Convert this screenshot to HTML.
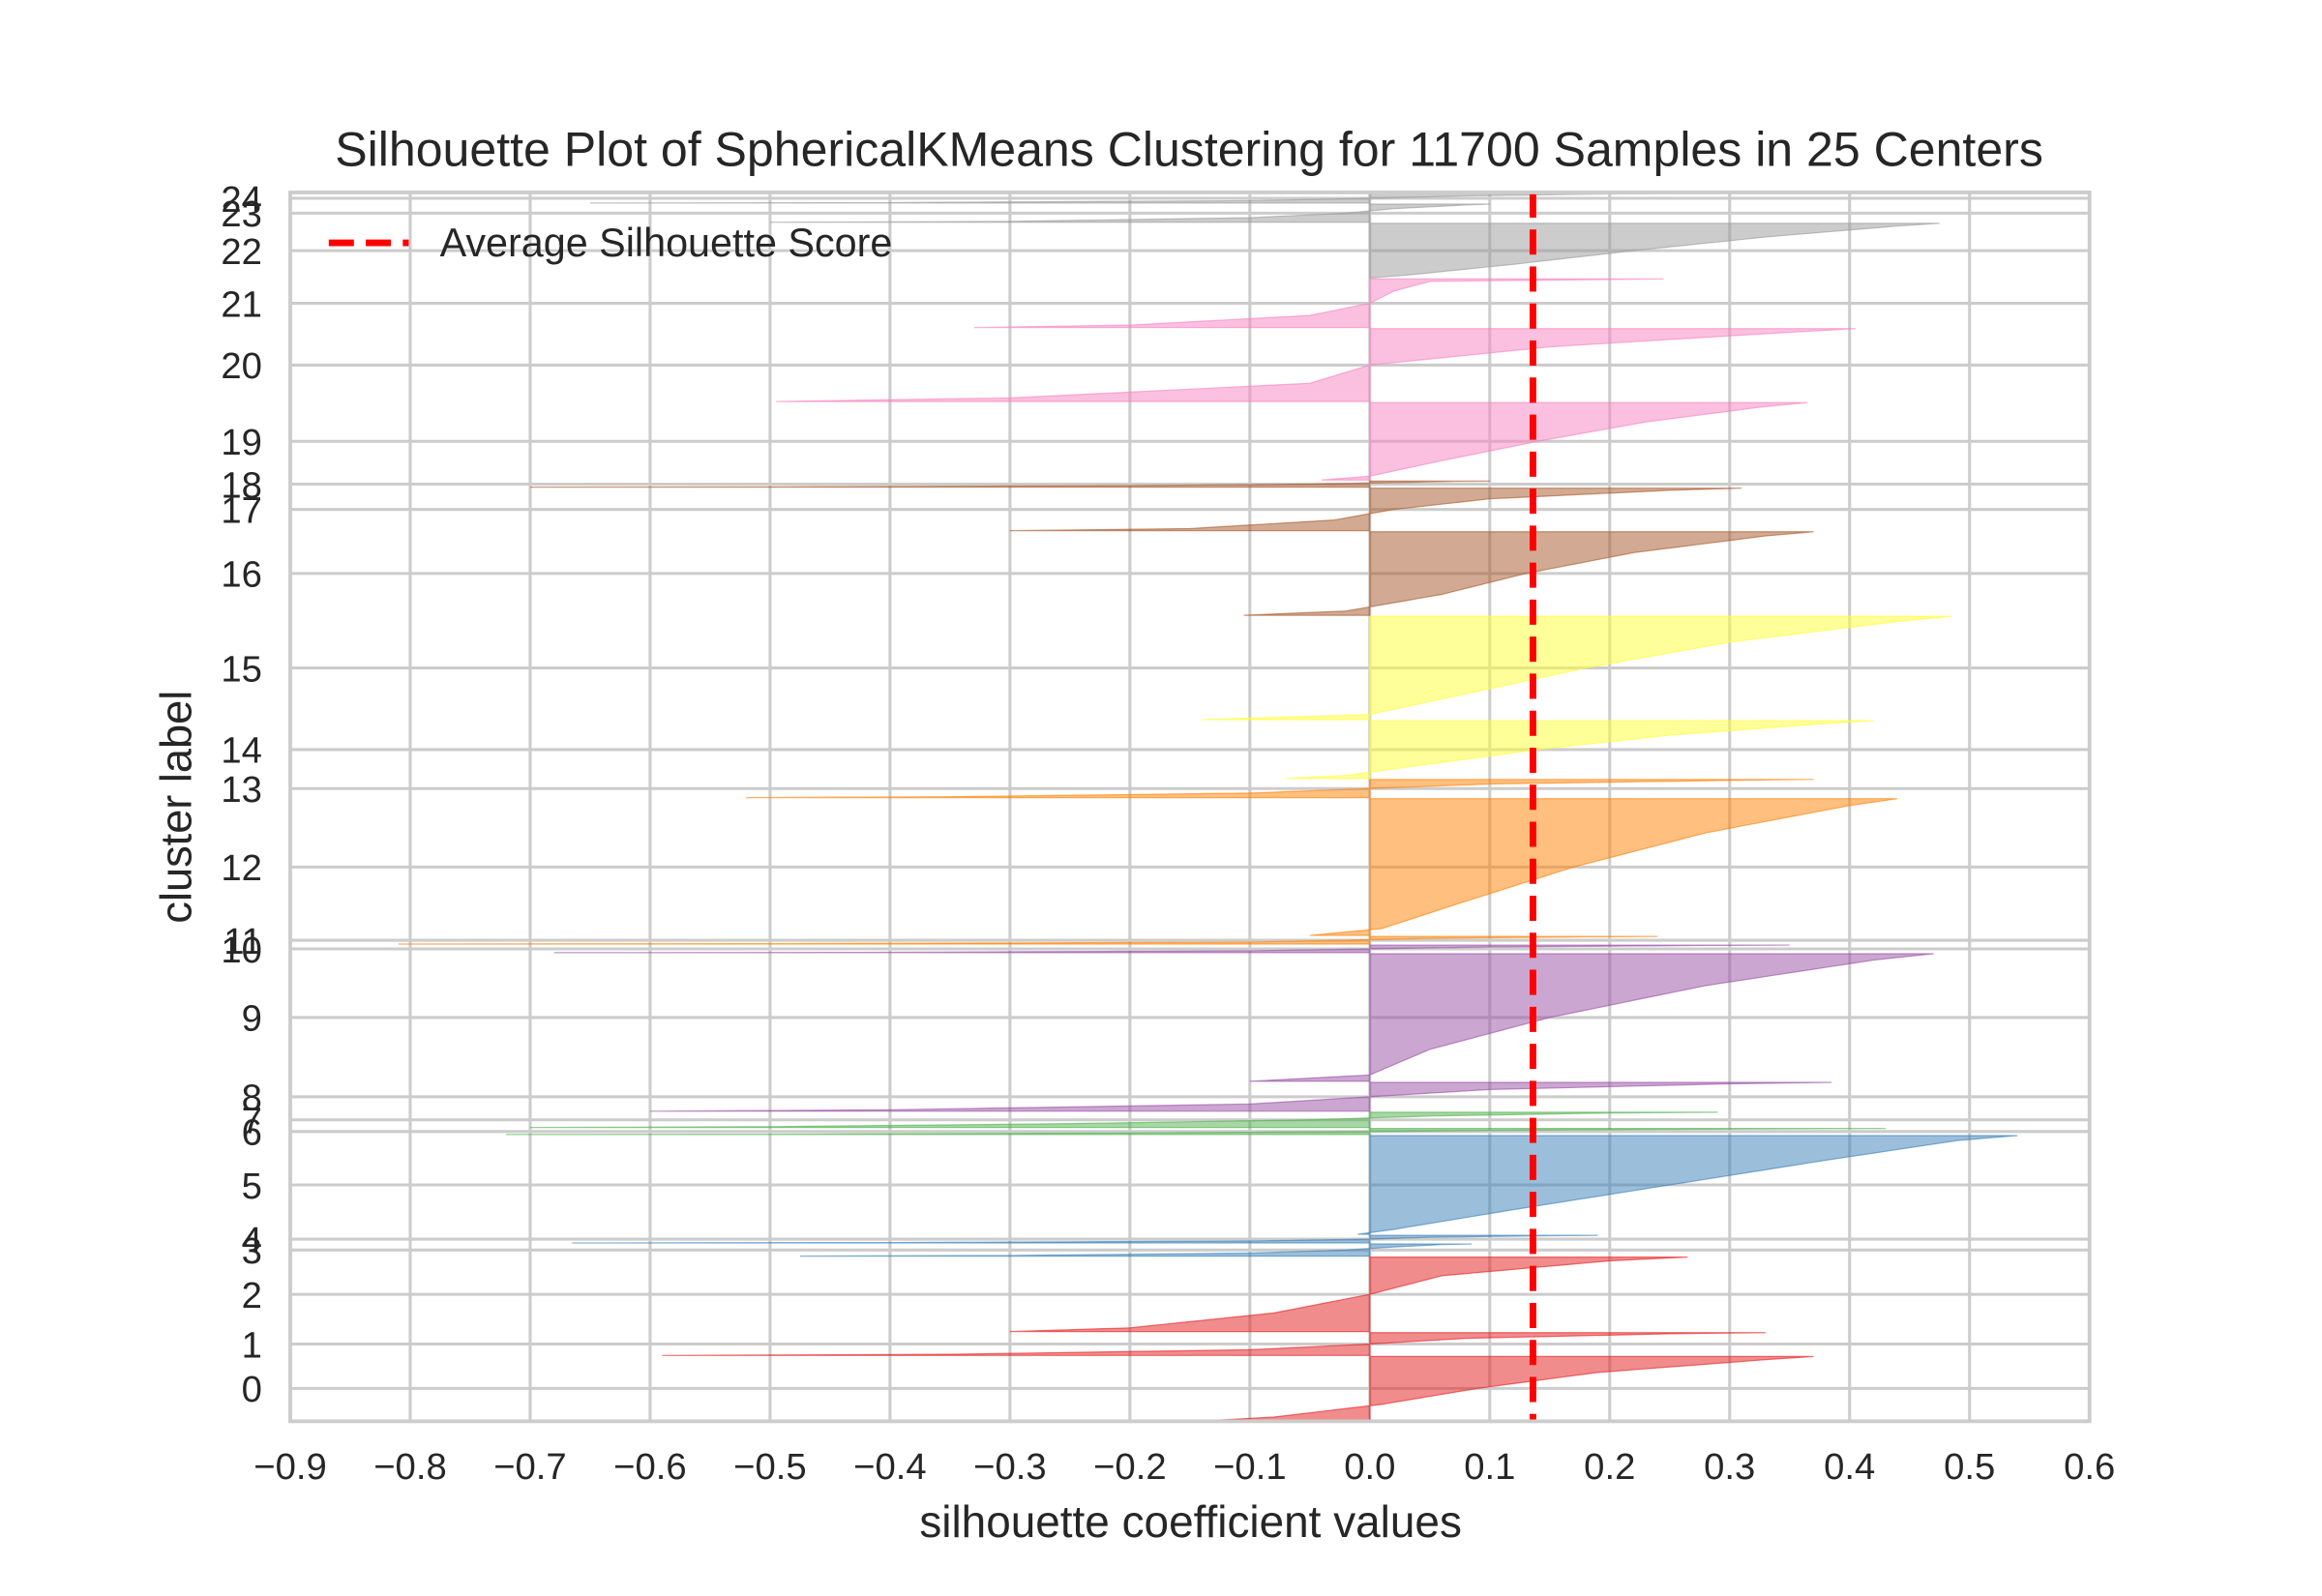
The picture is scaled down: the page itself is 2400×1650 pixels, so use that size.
<!DOCTYPE html>
<html><head><meta charset="utf-8">
<style>html,body{margin:0;padding:0;background:#fff;}svg{display:block;}</style>
</head><body>
<svg id="chart" width="2400" height="1650" viewBox="0 0 1568 1078" preserveAspectRatio="none" xmlns="http://www.w3.org/2000/svg" font-family="Liberation Sans, Arial, sans-serif">
<rect x="0" y="0" width="1568" height="1078" fill="#fff"/>
<g id="grid"></g>
<g id="marks"></g>
<rect x="196" y="130" width="1215" height="830" fill="none" stroke="#cccccc" stroke-width="2.5"/>
<g id="ticks"></g>
<text x="803" y="112" text-anchor="middle" font-size="32.7" fill="#262626">Silhouette Plot of SphericalKMeans Clustering for 11700 Samples in 25 Centers</text>
<text x="804" y="1038" text-anchor="middle" font-size="30" fill="#262626">silhouette coefficient values</text>
<text transform="translate(129,545) rotate(-90)" text-anchor="middle" font-size="29.5" fill="#262626">cluster label</text>
<g>
<line x1="222" y1="164" x2="276" y2="164" stroke="#ff0000" stroke-width="4.5" stroke-dasharray="17,8"/>
<text x="297" y="173" font-size="27" fill="#262626">Average Silhouette Score</text>
</g>
</svg>
<script>
const sizes = [621,222,725,118,74,961,59,148,281,1242,74,74,1331,177,562,1006,813,414,59,754,710,473,532,177,93];
const quantileLevels = [0,0.05,0.25,0.5,0.75,0.95,1];
const q0 = [-0.13,-0.08,0.01,0.09,0.19,0.33,0.37];
const q1 = [-0.59,-0.35,-0.1,0.0,0.08,0.25,0.33];
const q2 = [-0.30,-0.2,-0.08,0.0,0.06,0.2,0.265];
const q3 = [-0.475,-0.3,-0.1,-0.02,0.02,0.06,0.085];
const q4 = [-0.665,-0.4,-0.1,0.0,0.05,0.15,0.19];
const q5 = [-0.01,0.02,0.12,0.25,0.38,0.49,0.54];
const q6 = [-0.72,-0.5,-0.2,0.0,0.15,0.35,0.43];
const q7 = [-0.70,-0.5,-0.25,-0.05,0.05,0.2,0.29];
const q8 = [-0.6,-0.4,-0.1,0.0,0.1,0.3,0.385];
const q9 = [-0.1,0.0,0.05,0.15,0.28,0.42,0.47];
const q10 = [-0.68,-0.4,-0.1,0.0,0.1,0.28,0.35];
const q11 = [-0.81,-0.5,-0.1,-0.02,0.05,0.18,0.24];
const q12 = [-0.05,0.01,0.08,0.17,0.28,0.40,0.44];
const q13 = [-0.52,-0.35,-0.1,0.0,0.1,0.3,0.37];
const q14 = [-0.07,-0.02,0.05,0.14,0.25,0.38,0.42];
const q15 = [-0.14,0.0,0.08,0.18,0.30,0.44,0.485];
const q16 = [-0.105,-0.02,0.06,0.13,0.22,0.33,0.37];
const q17 = [-0.30,-0.15,-0.03,0.02,0.1,0.25,0.31];
const q18 = [-0.70,-0.5,-0.2,-0.05,0.02,0.07,0.1];
const q19 = [-0.04,0.0,0.06,0.14,0.23,0.33,0.365];
const q20 = [-0.495,-0.3,-0.05,0.0,0.15,0.35,0.405];
const q21 = [-0.33,-0.2,-0.05,0.0,0.02,0.05,0.245];
const q22 = [0.0,0.03,0.12,0.22,0.33,0.44,0.475];
const q23 = [-0.5,-0.3,-0.1,-0.02,0.02,0.08,0.1];
const q24 = [-0.65,-0.4,-0.1,0.0,0.08,0.2,0.26];
const clusterColors = ['#e41a1c','#e41a1c','#e41a1c','#377eb8','#377eb8','#377eb8','#4daf4a','#4daf4a','#984ea3','#984ea3','#984ea3','#ff7f00','#ff7f00','#ff7f00','#ffff33','#ffff33','#a65628','#a65628','#a65628','#f781bf','#f781bf','#f781bf','#999999','#999999','#999999'];
const xTicks = [-0.9,-0.8,-0.7,-0.6,-0.5,-0.4,-0.3,-0.2,-0.1,0.0,0.1,0.2,0.3,0.4,0.5,0.6];
const avgScore = 0.136;

const quantiles = [q0,q1,q2,q3,q4,q5,q6,q7,q8,q9,q10,q11,q12,q13,q14,q15,q16,q17,q18,q19,q20,q21,q22,q23,q24];
const NS = 'http://www.w3.org/2000/svg';
const X0 = 196, X1 = 1411, Y0 = 130, Y1 = 960;
const xMin = -0.9, xMax = 0.6;
const total = sizes.reduce((a,b)=>a+b,0);
const yMax = total + (sizes.length + 1) * 10;
function xs(v){ return X0 + (v - xMin) / (xMax - xMin) * (X1 - X0); }
function ys(v){ return Y1 - v / yMax * (Y1 - Y0); }
function mk(tag, attrs){ const e = document.createElementNS(NS, tag); for (const k in attrs) e.setAttribute(k, attrs[k]); return e; }

const grid = document.getElementById('grid');
const marks = document.getElementById('marks');
const ticks = document.getElementById('ticks');

xTicks.forEach(t => {
  const l = mk('line', {x1: xs(t), x2: xs(t), y1: Y0, y2: Y1, stroke: '#cccccc', 'stroke-width': 2});
  
  
  grid.appendChild(l);
  const tx = mk('text', {x: xs(t), y: 999, 'text-anchor': 'middle', 'font-size': 25, fill: '#262626'});
  tx.textContent = (t < 0 ? '\u2212' : '') + Math.abs(t).toFixed(1);
  
  
  ticks.appendChild(tx);
});

function qval(q, p){
  for (let i = 1; i < quantileLevels.length; i++) {
    if (p <= quantileLevels[i]) {
      const a = quantileLevels[i-1], b = quantileLevels[i];
      return q[i-1] + (q[i] - q[i-1]) * (p - a) / (b - a);
    }
  }
  return q[q.length - 1];
}

let yLower = 10;
sizes.forEach((n, i) => {
  const q = quantiles[i];
  const yUpper = yLower + n;
  const center = yLower + 0.5 * n;
  const gl = mk('line', {x1: X0, x2: X1, y1: ys(center), y2: ys(center), stroke: '#cccccc', 'stroke-width': 2});
  
  
  grid.appendChild(gl);
  const steps = 40;
  let d = 'M' + xs(0) + ',' + ys(yLower);
  for (let s = 0; s <= steps; s++) {
    const p = s / steps;
    d += ' L' + xs(qval(q, p)).toFixed(2) + ',' + ys(yLower + p * n).toFixed(2);
  }
  d += ' L' + xs(0) + ',' + ys(yUpper) + ' Z';
  const path = mk('path', {d: d, fill: clusterColors[i], 'fill-opacity': 0.5, stroke: clusterColors[i], 'stroke-opacity': 0.6, 'stroke-width': 0.8});
  
  
  marks.appendChild(path);
  const lab = mk('text', {x: 177, y: ys(center) + 9, 'text-anchor': 'end', 'font-size': 25, fill: '#262626'});
  lab.textContent = String(i);
  
  
  ticks.appendChild(lab);
  yLower = yUpper + 10;
});

const avg = mk('line', {x1: xs(avgScore), x2: xs(avgScore), y1: Y0, y2: Y1, stroke: '#ff0000', 'stroke-width': 4.5, 'stroke-dasharray': '17,8'});


marks.appendChild(avg);
</script>
</body></html>
